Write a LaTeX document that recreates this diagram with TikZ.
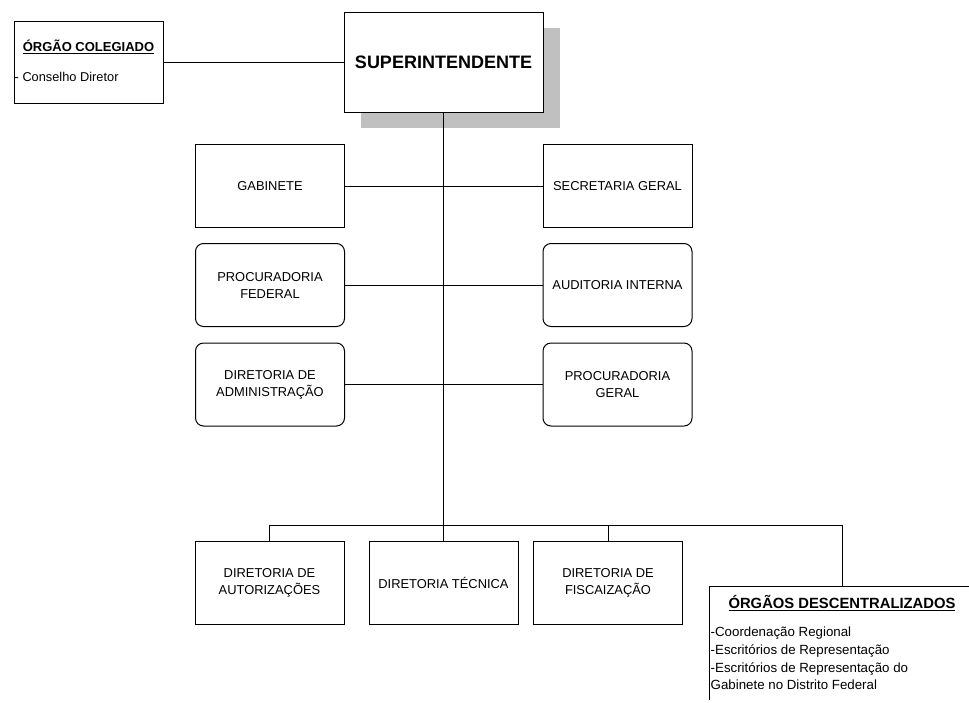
\documentclass[tikz,border=0pt]{standalone}
\usepackage{fontspec}
\setmainfont{Liberation Sans}
\definecolor{shadowgray}{RGB}{192,192,192}
\tikzset{
  unitbox/.style={draw=black, line width=1pt, fill=white, minimum width=149pt, minimum height=83pt, inner sep=0pt, align=center, font=\fontsize{12.9}{17}\selectfont},
  roundbox/.style={unitbox, rounded corners=8pt},
  conn/.style={draw=black, line width=0.9pt},
  plaintext/.style={inner sep=0pt, align=left}
}
\begin{document}
\begin{tikzpicture}[x=1pt,y=-1pt]
\useasboundingbox (0,0) rectangle (969,702);
% shadow of superintendente
\fill[shadowgray] (361,28) rectangle (560,128);
% main boxes
\node[unitbox, minimum width=199pt, minimum height=100pt, font=\fontsize{18}{21}\selectfont\bfseries] (sup) at (443.5,62) {SUPERINTENDENTE};
\node[unitbox, minimum width=149pt, minimum height=82pt] (col) at (88.5,62) {};
\node[plaintext, font=\fontsize{13}{15}\selectfont\bfseries] (coltitle) at (88.5,46.5) {\underline{ÓRGÃO COLEGIADO}};
\node[plaintext, anchor=west, font=\fontsize{12.8}{15}\selectfont] (coltext) at (14.5,77) {- Conselho Diretor};

\node[unitbox] (gab) at (270,186) {GABINETE};
\node[unitbox] (sec) at (617.5,186) {SECRETARIA GERAL};
\node[roundbox] (pf) at (270,285) {PROCURADORIA\\FEDERAL};
\node[roundbox] (ai) at (617.5,285) {AUDITORIA INTERNA};
\node[roundbox] (da) at (270,384.5) {DIRETORIA DE\\ADMINISTRAÇÃO};
\node[roundbox] (pg) at (617.5,384.5) {PROCURADORIA\\GERAL};

\node[unitbox] (aut) at (269.5,583) {DIRETORIA DE\\AUTORIZAÇÕES};
\node[unitbox] (tec) at (443.5,583) {DIRETORIA TÉCNICA};
\node[unitbox] (fis) at (608,583) {DIRETORIA DE\\FISCAIZAÇÃO};

% descentralizados (open box)
\coordinate (descTL) at (709,586);
\coordinate (descTR) at (969,586);
\coordinate (descBL) at (709,700);
\coordinate (desc) at (842,586);
\draw[line width=1pt] (descTR) -- (descTL) -- (descBL);
\node[plaintext, font=\fontsize{14.8}{17}\selectfont\bfseries] (desctitle) at (842,603) {\underline{ÓRGÃOS DESCENTRALIZADOS}};
\node[plaintext, anchor=north west, font=\fontsize{13.3}{17.7}\selectfont] (desctext) at (710.5,627) {-Coordenação Regional\\-Escritórios de Representação\\-Escritórios de Representação do\\Gabinete no Distrito Federal};

% connectors
\coordinate (busC) at (443.5,525);
\coordinate (busL) at (269.5,525);
\coordinate (busR) at (842,525);
\draw[conn] (col.east |- sup.west) -- (sup.west);
\draw[conn] (sup.south) -- (busC);
\draw[conn] (gab.east) -- (sec.west);
\draw[conn] (pf.east) -- (ai.west);
\draw[conn] (da.east) -- (pg.west);
\draw[conn] (busL) -- (busR);
\draw[conn] (busL) -- (aut.north);
\draw[conn] (busC) -- (tec.north);
\draw[conn] (fis.north |- busL) -- (fis.north);
\draw[conn] (busR) -- (desc);
\end{tikzpicture}
\end{document}
